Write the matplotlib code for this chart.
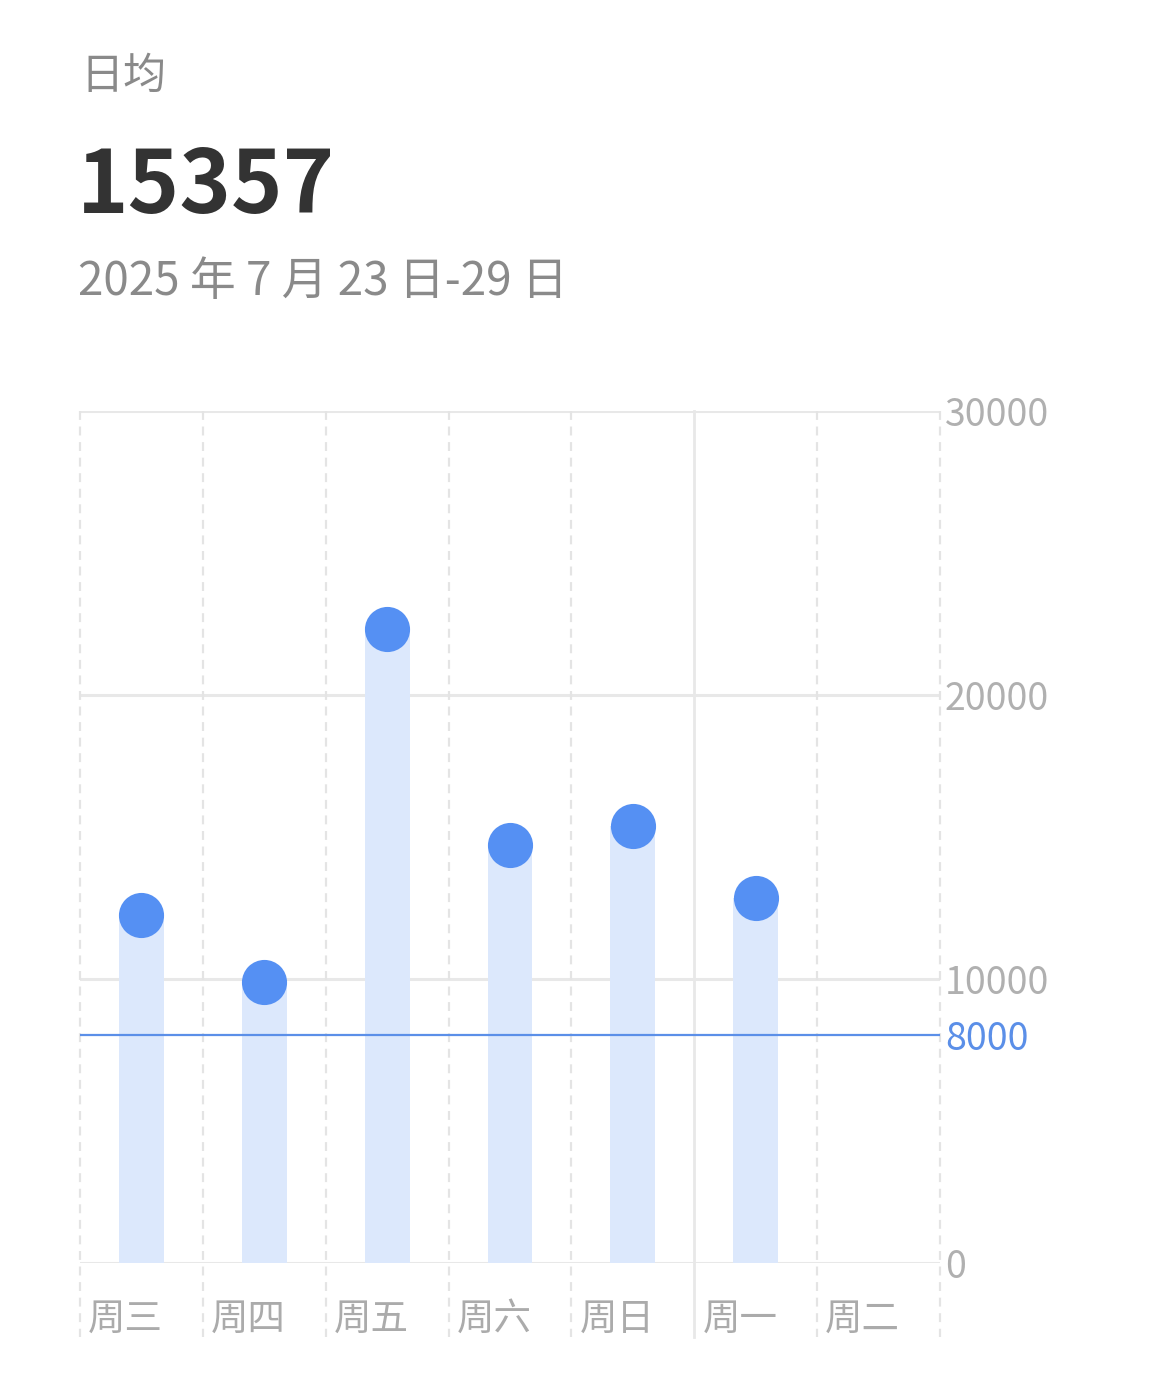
import matplotlib
matplotlib.use("Agg")
import matplotlib.pyplot as plt
from matplotlib.transforms import blended_transform_factory, offset_copy
import numpy as np

plt.rcParams["font.family"] = ["Noto Sans CJK SC", "DejaVu Sans"]

# data
days = ["周三", "周四", "周五", "周六", "周日", "周一", "周二"]
steps = [12230, 9870, 22300, 14720, 15390, 12840, None]
y_ticks = [0, 10000, 20000, 30000]
goal = 8000
avg_label = "15357"
period_label = "2025 年 7 月 23 日-29 日"

W, H, DPI = 1172, 1394, 100
COL_BAR = "#dce8fc"
COL_DOT = "#5590f3"
COL_GOAL = "#5b8fe8"
COL_GRID = "#e8e8e8"
COL_TICK = "#b0b0b0"

fig = plt.figure(figsize=(W / DPI, H / DPI), dpi=DPI, facecolor="white")
ax = fig.add_axes([80 / W, (H - 1262.7) / H, 860 / W, 852.2 / H])

n = len(days)
x = np.arange(n)
vals = np.array([np.nan if v is None else v for v in steps], dtype=float)
ok = ~np.isnan(vals)

ax.set_xlim(-0.5, n - 0.5)
ax.set_ylim(0, 30000)

# horizontal grid
for t in y_ticks:
    ax.axhline(t, color=COL_GRID, lw=2.2, zorder=1)

# vertical separators (dashed, one solid between 周日 and 周一), running under the labels
ext = -2600
for i in range(n + 1):
    xb = i - 0.5
    if i == 5:
        ax.plot([xb, xb], [30000, ext], color=COL_GRID, lw=2.0, clip_on=False, zorder=1)
    else:
        ax.plot([xb, xb], [30000, ext], color="#e4e4e4", lw=1.6, ls=(0, (4, 3)),
                clip_on=False, zorder=1)

ax.bar(x[ok], vals[ok], width=0.366, color=COL_BAR, zorder=2)
ax.plot(x[ok], vals[ok], "o", ms=32.5, color=COL_DOT, mec="none", zorder=4, clip_on=False)

ax.axhline(goal, color=COL_GOAL, lw=1.6, zorder=3)

# right-hand tick labels
tr = offset_copy(blended_transform_factory(ax.transAxes, ax.transData), fig=fig, x=5, y=0, units="dots")
for t in y_ticks:
    ax.text(1, t, f"{t}", transform=tr, fontsize=27, color=COL_TICK, ha="left",
            va="center_baseline", fontweight="medium")
ax.text(1, goal, f"{goal}", transform=tr, fontsize=27, color=COL_GOAL, ha="left",
        va="center_baseline", fontweight="medium")

# day labels, left aligned in each column
trx = offset_copy(ax.transData, fig=fig, x=8, y=0, units="dots")
for i, d in enumerate(days):
    ax.text(i - 0.5, -1830, d, transform=trx, fontsize=27, color="#ababab",
            ha="left", va="center_baseline", fontweight="medium")

for s in ax.spines.values():
    s.set_visible(False)
ax.set_xticks([])
ax.set_yticks([])

# header
fig.text(80 / W, 1 - 89 / H, "日均", fontsize=31, color="#8a8a8a", ha="left", va="baseline",
         fontweight="medium")
fig.text(77 / W, 1 - 213 / H, avg_label, fontsize=63, fontweight="bold", color="#333333",
         ha="left", va="baseline")
fig.text(78 / W, 1 - 295 / H, period_label, fontsize=33, color="#8a8a8a", ha="left", va="baseline",
         fontweight="medium")

fig.savefig("out.png", dpi=DPI, facecolor="white")
